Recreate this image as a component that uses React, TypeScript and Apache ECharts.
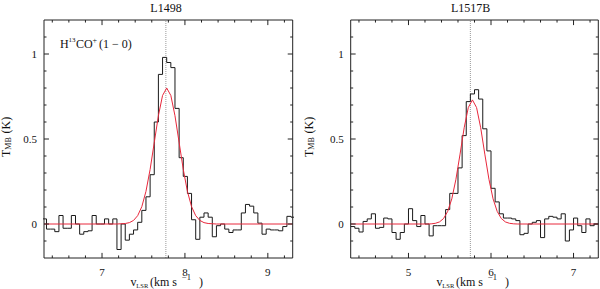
import React, { useEffect, useRef } from "react";
import * as echarts from "echarts";

const FONT = "Liberation Serif";
const AXIS_COLOR = "#222";
const TEXT_COLOR = "#111";
const HIST_COLOR = "#1a1a1a";
const FIT_COLOR = "#e8283c";
const VLSR_COLOR = "#9a9a9a";

// ---------- L1498 (left panel) ----------
const l1498Title = "L1498";
const l1498ChannelStart = 6.28;
const l1498ChannelWidth = 0.05;
const l1498Intensity = [
  0.03, -0.03, -0.03, -0.045, 0.05, -0.025, -0.025, 0.05, 0.0, -0.06,
  -0.045, -0.04, 0.05, 0.0, 0.0, 0.03, 0.0, 0.03, -0.15, 0.0,
  -0.095, -0.06, -0.035, 0.01, 0.08, 0.16, 0.29, 0.6, 0.88, 0.98,
  0.95, 0.92, 0.68, 0.39, 0.28, 0.18, 0.025, -0.09, 0.04, 0.065,
  0.04, -0.075, -0.01, 0.0, -0.03, -0.05, -0.035, -0.035, 0.065, 0.115,
  0.105, 0.065, 0.005, -0.06, -0.03, -0.035, -0.035, -0.04, -0.015, 0.045,
  0.04,
];
const l1498FitVelocity = [
  6.3, 7.18, 7.28, 7.33, 7.38, 7.43, 7.48, 7.53, 7.58, 7.63, 7.68, 7.73, 7.78,
  7.83, 7.88, 7.93, 7.98, 8.03, 8.08, 8.13, 8.18, 8.23, 8.28, 8.38, 9.3,
];
const l1498FitIntensity = [
  0, 0, 0.003, 0.008, 0.021, 0.049, 0.102, 0.192, 0.321, 0.479, 0.637, 0.756, 0.8,
  0.756, 0.637, 0.479, 0.321, 0.192, 0.102, 0.049, 0.021, 0.008, 0.003, 0, 0,
];
const l1498Vlsr = 7.77;
const l1498Range = [6.3, 9.3];
const l1498MajorTicks = [7, 8, 9];
const l1498MinorTicks = [6.4, 6.6, 6.8, 7.2, 7.4, 7.6, 7.8, 8.2, 8.4, 8.6, 8.8, 9.2];

// ---------- L1517B (right panel) ----------
const l1517bTitle = "L1517B";
const l1517bChannelStart = 4.3;
const l1517bChannelWidth = 0.05;
const l1517bIntensity = [
  -0.015, -0.025, -0.047, 0.015, 0.03, 0.06, -0.025, -0.02, 0.035, 0.03,
  -0.05, -0.09, -0.05, 0.0, 0.09, 0.02, -0.015, 0.05, 0.0, -0.07,
  -0.01, -0.01, -0.01, 0.085, 0.18, 0.18, 0.33, 0.52, 0.72, 0.765,
  0.79, 0.735, 0.56, 0.43, 0.21, 0.13, 0.06, 0.035, 0.035, 0.03,
  0.02, -0.063, -0.055, 0.0, 0.01, 0.02, -0.08, 0.03, 0.045, 0.04,
  0.03, 0.06, -0.1, -0.035, 0.035, -0.01, -0.05, 0.03, -0.01, 0.0,
];
const l1517bFitVelocity = [
  4.3, 5.225, 5.275, 5.325, 5.375, 5.425, 5.475, 5.525, 5.575, 5.625, 5.675, 5.725,
  5.775, 5.825, 5.875, 5.925, 5.975, 6.025, 6.075, 6.125, 6.175, 6.225, 6.275, 6.325, 7.3,
];
const l1517bFitIntensity = [
  0, 0, 0.001, 0.004, 0.012, 0.032, 0.074, 0.148, 0.263, 0.411, 0.566, 0.685,
  0.73, 0.685, 0.566, 0.411, 0.263, 0.148, 0.074, 0.032, 0.012, 0.004, 0.001, 0, 0,
];
const l1517bVlsr = 5.75;
const l1517bRange = [4.3, 7.3];
const l1517bMajorTicks = [5, 6, 7];
const l1517bMinorTicks = [4.4, 4.6, 4.8, 5.2, 5.4, 5.6, 5.8, 6.2, 6.4, 6.6, 6.8, 7.2];

// ---------- shared intensity axis ----------
const yRange = [-0.2, 1.2];
const yMajorTicks = [0, 0.5, 1];
const yMinorTicks = [-0.1, 0.1, 0.2, 0.3, 0.4, 0.6, 0.7, 0.8, 0.9, 1.1];

// tick lengths expressed in axis units (major / minor)
const X_TICK_LEN = [0.06, 0.03]; // velocity units, for ticks on the vertical sides
const Y_TICK_LEN = [0.03, 0.015]; // intensity units, for ticks on the horizontal sides

function stepData(start: number, width: number, values: number[]) {
  const pts: number[][] = values.map((t, i) => [start + i * width, t]);
  pts.push([start + values.length * width, values[values.length - 1]]);
  return pts;
}
function pairs(xs: number[], ys: number[]) {
  return xs.map((x, i) => [x, ys[i]]);
}

const labelStyle = { color: TEXT_COLOR, fontFamily: FONT, fontSize: 11 };

function xAxisFor(gridIndex: number, range: number[], major: number[]) {
  return {
    type: "value",
    gridIndex,
    min: range[0],
    max: range[1],
    position: "bottom",
    splitLine: { show: false },
    axisLine: { show: false, onZero: false },
    axisTick: { show: false },
    axisLabel: { show: true, customValues: major, margin: 8, ...labelStyle },
  };
}
function yAxisFor(gridIndex: number) {
  return {
    type: "value",
    gridIndex,
    min: yRange[0],
    max: yRange[1],
    position: "left",
    splitLine: { show: false },
    axisLine: { show: false, onZero: false },
    axisTick: { show: false },
    axisLabel: { show: true, customValues: yMajorTicks, margin: 7, ...labelStyle },
  };
}

// frame box and inward tick marks, drawn as line series through the axes' scales
function frameSeries(gridIndex: number, xRange: number[]) {
  const [x0, x1] = xRange;
  const [y0, y1] = yRange;
  return {
    type: "line",
    xAxisIndex: gridIndex,
    yAxisIndex: gridIndex,
    data: [
      [x0, y0],
      [x1, y0],
      [x1, y1],
      [x0, y1],
      [x0, y0],
    ],
    symbol: "none",
    clip: false,
    silent: true,
    lineStyle: { color: AXIS_COLOR, width: 1 },
  };
}

function tickSeries(gridIndex: number, xRange: number[], xMajor: number[], xMinor: number[]) {
  const [x0, x1] = xRange;
  const [y0, y1] = yRange;
  const gap = [NaN, NaN];
  const data: number[][] = [];
  const addX = (vals: number[], len: number) => {
    vals.forEach((v) => {
      data.push([v, y0], [v, y0 + len], gap, [v, y1], [v, y1 - len], gap);
    });
  };
  const addY = (vals: number[], len: number) => {
    vals.forEach((v) => {
      data.push([x0, v], [x0 + len, v], gap, [x1, v], [x1 - len, v], gap);
    });
  };
  addX(xMajor, Y_TICK_LEN[0]);
  addX(xMinor, Y_TICK_LEN[1]);
  addY(yMajorTicks, X_TICK_LEN[0]);
  addY(yMinorTicks, X_TICK_LEN[1]);
  return {
    type: "line",
    xAxisIndex: gridIndex,
    yAxisIndex: gridIndex,
    data,
    symbol: "none",
    connectNulls: false,
    clip: false,
    silent: true,
    lineStyle: { color: AXIS_COLOR, width: 1 },
  };
}

function txt(x: number, y: number, text: string, size: number, align = "left") {
  return {
    type: "text",
    x,
    y,
    style: {
      text,
      fill: TEXT_COLOR,
      fontFamily: FONT,
      fontSize: size,
      align,
      textAlign: align,
      verticalAlign: "middle",
      textVerticalAlign: "middle",
    },
  };
}

function xTitle(dx: number) {
  return [
    txt(130.5 + dx, 281.5, "v", 12),
    txt(136.3 + dx, 285, "LSR", 6.5),
    txt(150 + dx, 281.5, "(km s", 12),
    txt(182 + dx, 277, "\u22121", 8.5),
    txt(199 + dx, 281.5, ")", 12),
  ];
}

function yTitle(cx: number) {
  return {
    type: "group",
    x: cx,
    y: 158,
    rotation: Math.PI / 2,
    children: [txt(1, 0, "T", 12), txt(8.3, 2.5, "MB", 8), txt(24.5, 0, "(K)", 12)],
  };
}

function spectrumSeries(
  gridIndex: number,
  start: number,
  width: number,
  values: number[],
  fitV: number[],
  fitT: number[],
  vlsr: number
) {
  return [
    {
      type: "line",
      xAxisIndex: gridIndex,
      yAxisIndex: gridIndex,
      data: [
        [vlsr, yRange[0]],
        [vlsr, yRange[1]],
      ],
      symbol: "none",
      silent: true,
      lineStyle: { color: VLSR_COLOR, type: "dotted", width: 1 },
    },
    {
      type: "line",
      xAxisIndex: gridIndex,
      yAxisIndex: gridIndex,
      data: stepData(start, width, values),
      step: "end",
      symbol: "none",
      silent: true,
      lineStyle: { color: HIST_COLOR, width: 1 },
    },
    {
      type: "line",
      xAxisIndex: gridIndex,
      yAxisIndex: gridIndex,
      data: pairs(fitV, fitT),
      symbol: "none",
      silent: true,
      lineStyle: { color: FIT_COLOR, width: 1 },
    },
  ];
}

export default function App() {
  const ref = useRef<HTMLDivElement>(null);

  useEffect(() => {
    if (!ref.current) return;
    const chart = echarts.init(ref.current, null, { renderer: "svg" });
    const option: any = {
      animation: false,
      grid: [
        { left: 44, top: 20, width: 248.7, height: 238 },
        { left: 350.7, top: 20, width: 247.6, height: 238 },
      ],
      xAxis: [xAxisFor(0, l1498Range, l1498MajorTicks), xAxisFor(1, l1517bRange, l1517bMajorTicks)],
      yAxis: [yAxisFor(0), yAxisFor(1)],
      series: [
        ...spectrumSeries(0, l1498ChannelStart, l1498ChannelWidth, l1498Intensity, l1498FitVelocity, l1498FitIntensity, l1498Vlsr),
        ...spectrumSeries(1, l1517bChannelStart, l1517bChannelWidth, l1517bIntensity, l1517bFitVelocity, l1517bFitIntensity, l1517bVlsr),
        frameSeries(0, l1498Range),
        frameSeries(1, l1517bRange),
        tickSeries(0, l1498Range, l1498MajorTicks, l1498MinorTicks),
        tickSeries(1, l1517bRange, l1517bMajorTicks, l1517bMinorTicks),
      ],
      graphic: [
        txt(166, 7.5, l1498Title, 12, "center"),
        txt(470.7, 7.5, l1517bTitle, 12, "center"),
        txt(60, 44, "H", 12),
        txt(68.5, 40, "13", 7),
        txt(76, 44, "CO", 12),
        txt(92.5, 40, "+", 8),
        txt(99, 44, "(1 \u2212 0)", 12),
        ...xTitle(0),
        ...xTitle(306),
        yTitle(5.5),
        yTitle(308.5),
      ],
    };
    chart.setOption(option);
    return () => chart.dispose();
  }, []);

  return (
    <div
      ref={ref}
      style={{ position: "fixed", left: 0, top: 0, width: 600, height: 289, background: "#fff" }}
    />
  );
}
